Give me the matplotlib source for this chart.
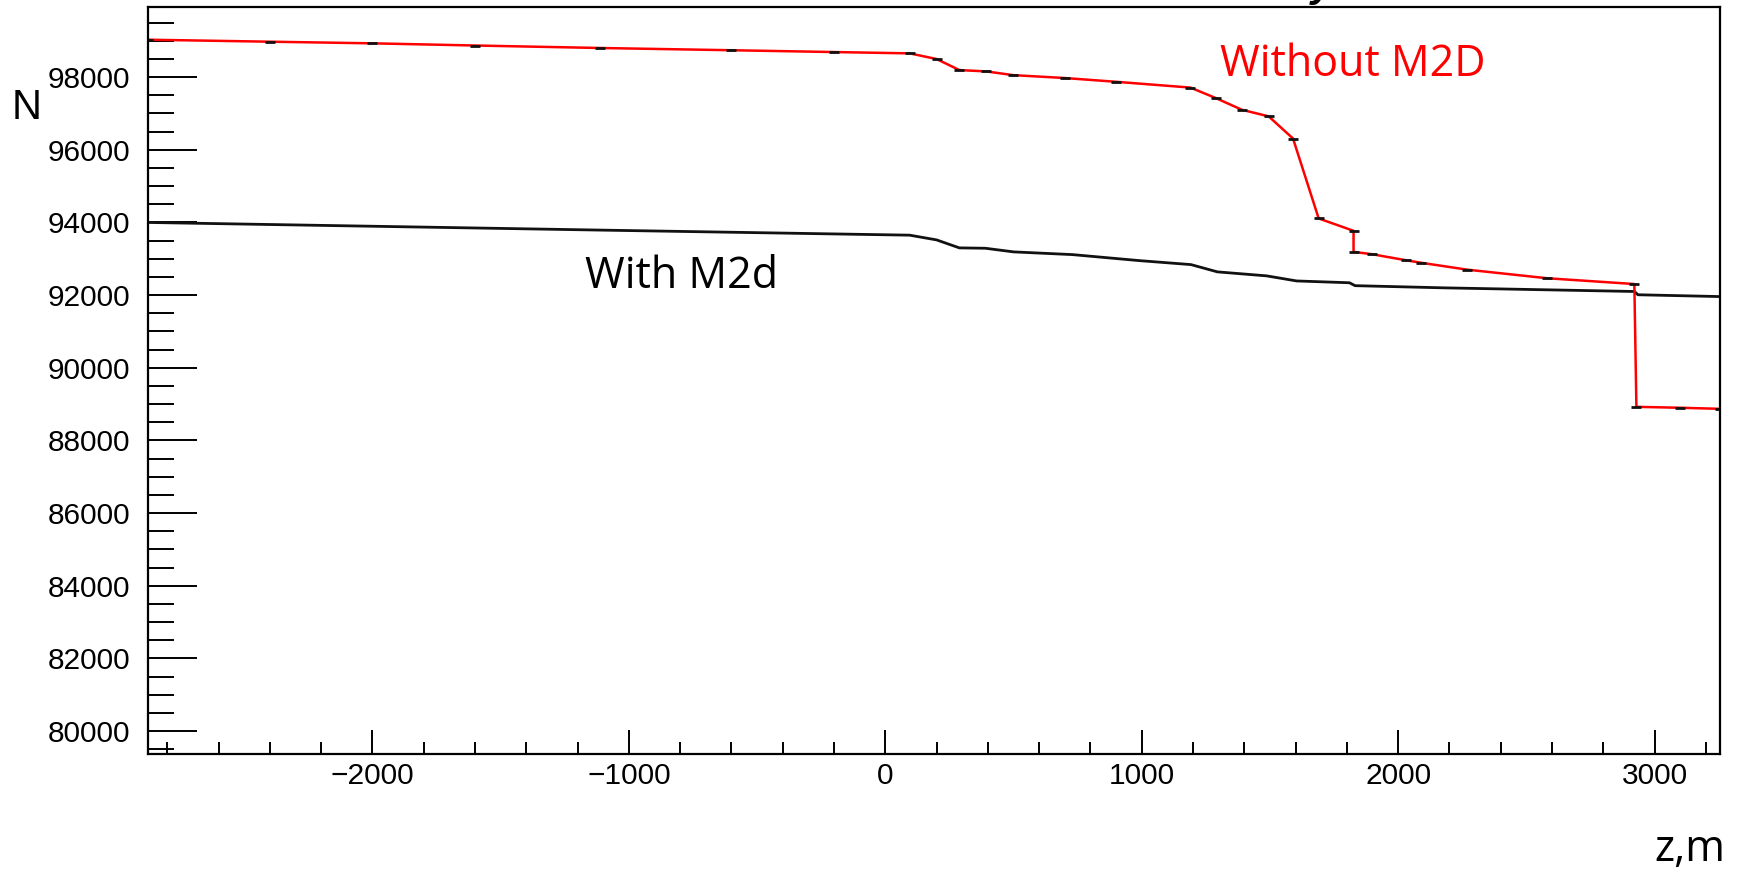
import matplotlib
matplotlib.use("Agg")
import matplotlib.pyplot as plt
from matplotlib.ticker import MultipleLocator

# ---- data ----
z_without = [-2875, -2400, -2000, -1600, -1114, -600, -200, 95, 200, 289, 394,
             498, 700, 901, 1190, 1290, 1391, 1495, 1590, 1690, 1826, 1826,
             1899, 2030, 2090, 2270, 2580, 2921, 2929, 3100, 3255]
n_without = [99030, 98975, 98930, 98870, 98802, 98740, 98690, 98654, 98498,
             98194, 98157, 98055, 97975, 97871, 97712, 97420, 97100, 96920,
             96310, 94110, 93770, 93190, 93125, 92960, 92890, 92700, 92465,
             92305, 88925, 88900, 88870]

z_with = [-2875, -1114, 95, 200, 289, 390, 500, 730, 990, 1192, 1295, 1487,
          1604, 1810, 1832, 2180, 2921, 2935, 3255]
n_with = [94000, 93790, 93650, 93520, 93300, 93290, 93190, 93115, 92950, 92840,
          92640, 92530, 92390, 92340, 92260, 92200, 92100, 92010, 91960]

label_without = "Without M2D"
label_with = "With M2d"

fig = plt.figure(figsize=(17.42, 8.72), dpi=100)
ax = fig.add_axes([148 / 1742, 1 - 754 / 872, (1720 - 148) / 1742, (754 - 7) / 872])

ax.plot(z_with, n_with, color="#111111", lw=2.0)
ax.plot(z_without, n_without, color="#ff0000", lw=1.8,
        marker="_", markersize=7, markeredgecolor="#111111", markeredgewidth=2)

ax.set_xlim(-2875, 3255)
ax.set_ylim(79370, 99930)

ax.xaxis.set_major_locator(MultipleLocator(1000))
ax.xaxis.set_minor_locator(MultipleLocator(200))
ax.yaxis.set_major_locator(MultipleLocator(2000))
ax.yaxis.set_minor_locator(MultipleLocator(500))

ax.tick_params(axis="y", which="major", direction="in", length=35, width=1.4,
               left=True, right=False, pad=13, labelsize=21.5)
ax.tick_params(axis="y", which="minor", direction="in", length=19, width=1.4,
               left=True, right=False)
ax.tick_params(axis="x", which="major", direction="in", length=17.5, width=1.4,
               bottom=True, top=False, pad=6, labelsize=21.5)
ax.tick_params(axis="x", which="minor", direction="in", length=9, width=1.4,
               bottom=True, top=False)
for lab in ax.get_xticklabels() + ax.get_yticklabels():
    lab.set_family("Liberation Sans")

for s in ax.spines.values():
    s.set_linewidth(1.6)

ax.text(1305, 98336, label_without, color="#ff0000", fontsize=31,
        family="Open Sans", va="center", ha="left")
ax.text(-1170, 92504, label_with, color="black", fontsize=31,
        family="Open Sans", va="center", ha="left")

fig.text(12 / 1742, 1 - 108 / 872, "N", fontsize=30, family="Liberation Sans",
         va="center", ha="left")
fig.text(1725 / 1742, 1 - 850 / 872, "z,m", fontsize=31, family="Open Sans",
         va="center", ha="right")
# title fragment cut by the top edge, as in the original
fig.text(1322 / 1742, 1 + 4 / 872, "y", fontsize=30, family="Liberation Sans",
         weight="bold", style="italic", va="baseline", ha="center")

fig.savefig("out.png", dpi=100)
